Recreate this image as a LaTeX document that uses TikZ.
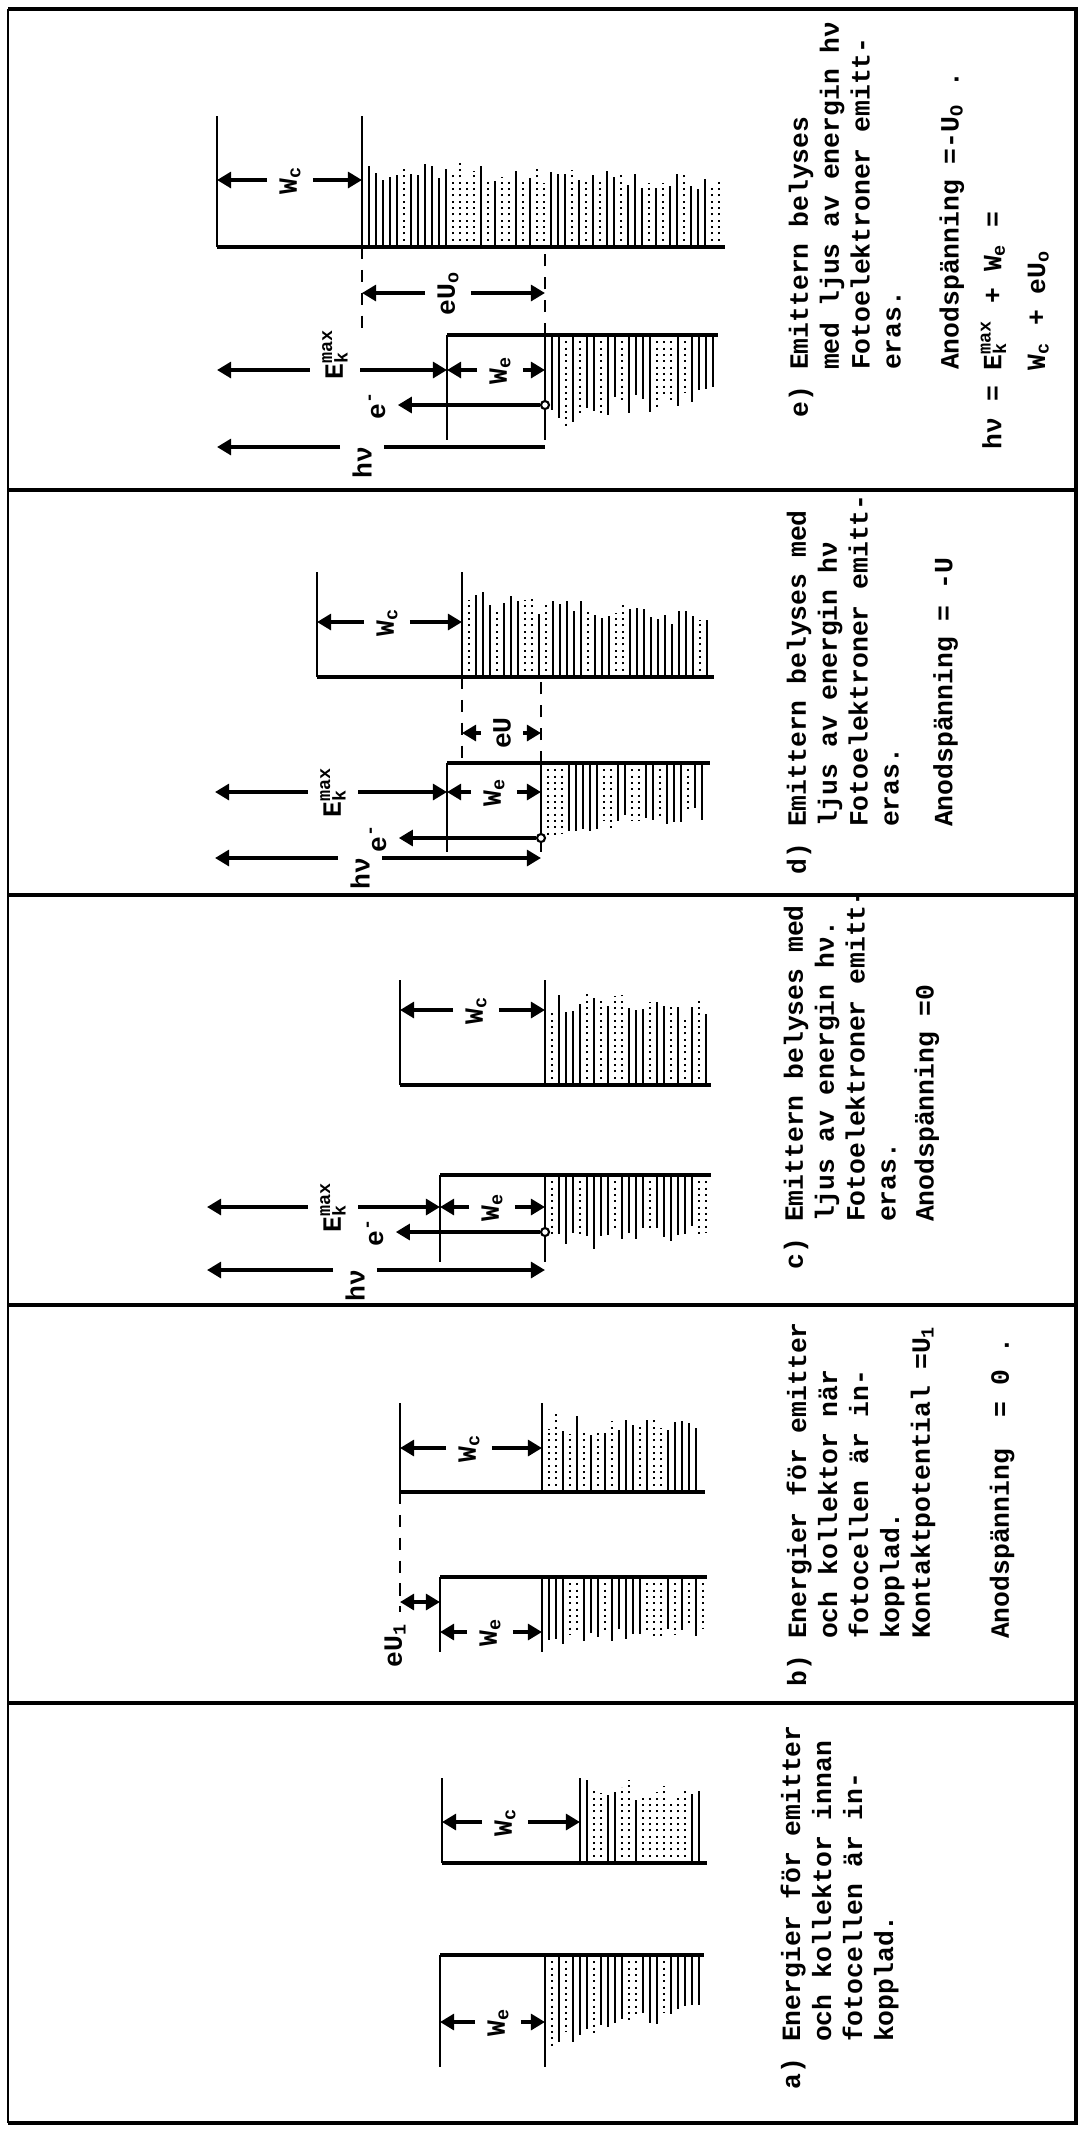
\documentclass[tikz,border=0pt]{standalone}
\usepackage{fontspec}
\setmainfont{Liberation Mono}
\usetikzlibrary{arrows.meta}

\newcommand{\ind}{\phantom{a)~}}
\newcommand{\Ekmax}{E\rlap{\textsubscript{k}}\textsuperscript{max}}

% filled states: vertical strokes from the wall to a ragged edge
\newcommand{\hatchlines}[5]{%
  \pgfmathtruncatemacro{\hn}{(#2-#1-3)/7}%
  \foreach \i in {1,...,\hn}{%
    \pgfmathsetmacro{\hx}{#1+7*\i}%
    \pgfmathsetmacro{\hy}{#3+(#4-#3)*(0.75+0.25*rnd)*(1-#5*\i/\hn)}%
    \pgfmathtruncatemacro{\hd}{rnd<0.3}%
    \ifnum\hd=1 \draw[hatchdot] (\hx,#3) -- (\hx,\hy);\else\draw[hatch] (\hx,#3) -- (\hx,\hy);\fi
  }}

% #1 name, #2 x vacuum level, #3 x fermi level, #4 y wall, #5 y end of levels, #6 x end of wall, #7 y end of hatching, #8 fading
\newcommand{\electrode}[8]{%
  \coordinate (#1-vac) at (#2,#4);
  \coordinate (#1-fermi) at (#3,#4);
  \draw[level] (#1-vac) -- (#2,#5);
  \draw[fermi] (#1-fermi) -- (#3,#5);
  \hatchlines{#3}{#6}{#4}{#7}{#8}
  \draw[wall] (#1-vac) -- (#6,#4);}

\begin{document}
\begin{tikzpicture}[
    x=0.01cm, y=-0.01cm,
    frame/.style={line width=1.2pt},
    thinframe/.style={line width=0.6pt},
    wall/.style={line width=1.4pt},
    level/.style={line width=0.5pt},
    fermi/.style={line width=0.8pt},
    hatch/.style={line width=0.45pt},
    hatchdot/.style={line width=0.5pt, dash pattern=on 0.6pt off 1.2pt},
    dashlevel/.style={line width=0.6pt, dash pattern=on 3.5pt off 3pt},
    dimarrow/.style={-{Triangle[length=4pt,width=4.5pt]}, line width=1pt},
    twoarrow/.style={{Triangle[length=4pt,width=4.5pt]}-{Triangle[length=4pt,width=4.5pt]}, line width=1pt},
    shaft/.style={line width=1pt},
    electron/.style={circle, draw, fill=white, inner sep=0pt, minimum size=0.08cm, line width=0.6pt},
    lbl/.style={rotate=90, font=\fontsize{7.5}{9}\selectfont\bfseries},
    txt/.style={rotate=90, anchor=north west, align=left, inner sep=0pt, font=\fontsize{7.5}{8.8}\selectfont\bfseries}
]
    \useasboundingbox (0,0) rectangle (1082,2129);
    \pgfmathsetseed{11}

    % table
    \draw[thinframe] (8,9) -- (8,2123);
    \draw[frame] (8,9) -- (1076,9) -- (1076,2123) -- (8,2123);
    \foreach \y in {490,895,1305,1703}
        \draw[frame] (8,\y) -- (1076,\y);

    % e)
    \electrode{ec}{217}{362}{247}{116}{725}{158}{0.15}
    \electrode{ee}{447}{545}{335}{440}{718}{430}{0.3}
    \draw[dashlevel] (ec-fermi) -- (ee-fermi -| ec-fermi);
    \draw[dashlevel] (ee-fermi) -- (ec-fermi -| ee-fermi);
    \coordinate (e-top) at (217,0);
    \node[lbl] (e-wc) at (290,180) {W\textsubscript{c}};
    \draw[dimarrow] (e-wc) -- (e-wc -| ec-vac);
    \draw[dimarrow] (e-wc) -- (e-wc -| ec-fermi);
    \node[lbl] (e-eu) at (448,293) {eU\textsubscript{o}};
    \draw[dimarrow] (e-eu) -- (e-eu -| ec-fermi);
    \draw[dimarrow] (e-eu) -- (e-eu -| ee-fermi);
    \node[lbl] (e-ek) at (335,370) {\phantom{EE}\Ekmax};
    \draw[dimarrow] (e-ek) -- (e-ek -| e-top);
    \draw[dimarrow] (e-ek) -- (e-ek -| ee-vac);
    \node[lbl] (e-we) at (500,370) {W\textsubscript{e}};
    \draw[dimarrow] (e-we) -- (e-we -| ee-vac);
    \draw[dimarrow] (e-we) -- (e-we -| ee-fermi);
    \node[electron] (e-el) at (545,405) {};
    \node[lbl] (e-em) at (377,405) {e\textsuperscript{-}};
    \draw[dimarrow] (e-el) -- (e-em);
    \node[lbl] (e-hv) at (362,447) {hν\phantom{hν}};
    \draw[dimarrow] (e-hv) -- (e-hv -| e-top);
    \draw[shaft] (e-hv) -- (e-hv -| ee-fermi);
    \node[txt] (e-text) at (788,418) {e) Emittern belyses\\\ind med ljus av energin hν\\\ind Fotoelektroner emitt-\\\ind eras.\\[7.7pt]\ind Anodspänning =-U\textsubscript{O} .};
    \node[txt] (e-formula) at (980,450) {hν = \Ekmax{} + W\textsubscript{e} =\\[3.7pt]\phantom{hν~=~}W\textsubscript{c} + eU\textsubscript{o}};

    % d)
    \electrode{dc}{317}{462}{677}{572}{714}{585}{0.3}
    \electrode{de}{447}{541}{763}{852}{710}{845}{0.3}
    \draw[dashlevel] (dc-fermi) -- (de-fermi -| dc-fermi);
    \draw[dashlevel] (de-fermi) -- (dc-fermi -| de-fermi);
    \coordinate (d-top) at (215,0);
    \node[lbl] (d-wc) at (387,622) {W\textsubscript{c}};
    \draw[dimarrow] (d-wc) -- (d-wc -| dc-vac);
    \draw[dimarrow] (d-wc) -- (d-wc -| dc-fermi);
    \node[lbl] (d-eu) at (502,733) {eU};
    \draw[dimarrow] (d-eu) -- (d-eu -| dc-fermi);
    \draw[dimarrow] (d-eu) -- (d-eu -| de-fermi);
    \node[lbl] (d-ek) at (333,792) {\Ekmax};
    \draw[dimarrow] (d-ek) -- (d-ek -| d-top);
    \draw[dimarrow] (d-ek) -- (d-ek -| de-vac);
    \node[lbl] (d-we) at (494,792) {W\textsubscript{e}};
    \draw[dimarrow] (d-we) -- (d-we -| de-vac);
    \draw[dimarrow] (d-we) -- (d-we -| de-fermi);
    \node[electron] (d-el) at (541,838) {};
    \node[lbl] (d-em) at (378,838) {e\textsuperscript{-}};
    \draw[dimarrow] (d-el) -- (d-em);
    \node[lbl] (d-hv) at (360,858) {hν\phantom{hν}};
    \draw[dimarrow] (d-hv) -- (d-hv -| d-top);
    \draw[dimarrow] (d-hv) -- (d-hv -| de-fermi);
    \node[txt] (d-text) at (786,875) {d) Emittern belyses med\\\ind ljus av energin hν\\\ind Fotoelektroner emitt-\\\ind eras.\\[6.5pt]\ind Anodspänning = -U};

    % c)
    \electrode{cc}{400}{545}{1085}{980}{711}{988}{0.1}
    \electrode{ce}{440}{545}{1175}{1262}{711}{1255}{0.2}
    \coordinate (c-top) at (207,0);
    \node[lbl] (c-wc) at (476,1010) {W\textsubscript{c}};
    \draw[dimarrow] (c-wc) -- (c-wc -| cc-vac);
    \draw[dimarrow] (c-wc) -- (c-wc -| cc-fermi);
    \node[lbl] (c-ek) at (333,1207) {\Ekmax};
    \draw[dimarrow] (c-ek) -- (c-ek -| c-top);
    \draw[dimarrow] (c-ek) -- (c-ek -| ce-vac);
    \node[lbl] (c-we) at (492,1207) {W\textsubscript{e}};
    \draw[dimarrow] (c-we) -- (c-we -| ce-vac);
    \draw[dimarrow] (c-we) -- (c-we -| ce-fermi);
    \node[electron] (c-el) at (545,1232) {};
    \node[lbl] (c-em) at (375,1232) {e\textsuperscript{-}};
    \draw[dimarrow] (c-el) -- (c-em);
    \node[lbl] (c-hv) at (355,1270) {hν\phantom{hν}};
    \draw[dimarrow] (c-hv) -- (c-hv -| c-top);
    \draw[dimarrow] (c-hv) -- (c-hv -| ce-fermi);
    \node[txt] (c-text) at (783,1270) {c) Emittern belyses med\\\ind ljus av energin hν.\\\ind Fotoelektroner emitt-\\\ind eras.\\[2pt]\ind Anodspänning =0};

    % b)
    \electrode{bc}{400}{542}{1492}{1403}{705}{1413}{0.1}
    \electrode{be}{440}{542}{1577}{1652}{707}{1648}{0.15}
    \draw[dashlevel] (bc-vac) -- (400,1612);
    \coordinate (b-eu) at (420,1602);
    \draw[twoarrow] (b-eu -| bc-vac) -- (b-eu -| be-vac);
    \node[lbl] (b-eulbl) at (395,1645) {eU\textsubscript{1}};
    \node[lbl] (b-wc) at (469,1448) {W\textsubscript{c}};
    \draw[dimarrow] (b-wc) -- (b-wc -| bc-vac);
    \draw[dimarrow] (b-wc) -- (b-wc -| bc-fermi);
    \node[lbl] (b-we) at (490,1632) {W\textsubscript{e}};
    \draw[dimarrow] (b-we) -- (b-we -| be-vac);
    \draw[dimarrow] (b-we) -- (b-we -| be-fermi);
    \node[txt] (b-text) at (786,1687) {b) Energier för emitter\\\ind och kollektor när\\\ind fotocellen är in-\\\ind kopplad.\\\ind Kontaktpotential =U\textsubscript{1}\\[13.6pt]\ind Anodspänning~ = 0 .};

    % a)
    \electrode{ac}{442}{580}{1863}{1778}{707}{1776}{0.1}
    \electrode{ae}{440}{545}{1955}{2067}{704}{2058}{0.45}
    \node[lbl] (a-wc) at (505,1822) {W\textsubscript{c}};
    \draw[dimarrow] (a-wc) -- (a-wc -| ac-vac);
    \draw[dimarrow] (a-wc) -- (a-wc -| ac-fermi);
    \node[lbl] (a-we) at (498,2022) {W\textsubscript{e}};
    \draw[dimarrow] (a-we) -- (a-we -| ae-vac);
    \draw[dimarrow] (a-we) -- (a-we -| ae-fermi);
    \node[txt] (a-text) at (780,2090) {a) Energier för emitter\\\ind och kollektor innan\\\ind fotocellen är in-\\\ind kopplad.};
\end{tikzpicture}
\end{document}
